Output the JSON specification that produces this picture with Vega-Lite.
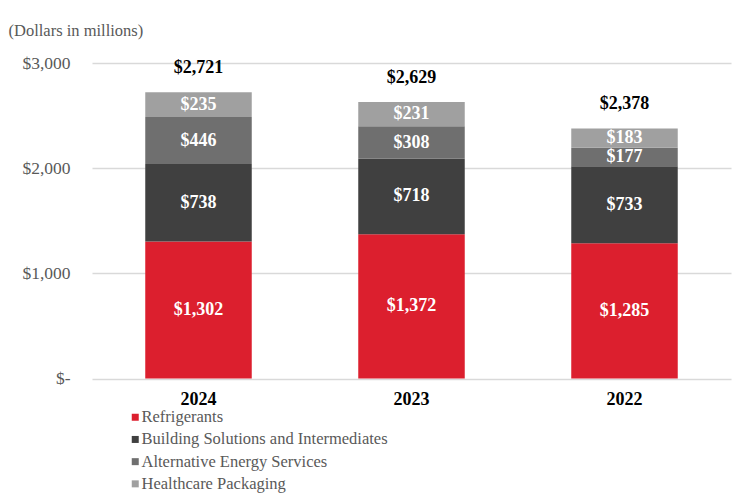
{
  "$schema": "https://vega.github.io/schema/vega-lite/v6.json",
  "autosize": {"type": "none"},
  "width": 639,
  "height": 315.5,
  "padding": {"left": 92, "top": 63, "right": 23, "bottom": 117},
  "background": "white",
  "config": {
    "view": {"stroke": null},
    "font": "Liberation Serif",
    "axis": {"labelFont": "Liberation Serif", "titleFont": "Liberation Serif"},
    "legend": {"labelFont": "Liberation Serif", "titleFont": "Liberation Serif"},
    "text": {"font": "Liberation Serif"}
  },
  "datasets": {
    "segments": [
      {"year": "2024", "segment": "Refrigerants", "rank": 1, "value": 1302},
      {"year": "2024", "segment": "Building Solutions and Intermediates", "rank": 2, "value": 738},
      {"year": "2024", "segment": "Alternative Energy Services", "rank": 3, "value": 446},
      {"year": "2024", "segment": "Healthcare Packaging", "rank": 4, "value": 235},
      {"year": "2023", "segment": "Refrigerants", "rank": 1, "value": 1372},
      {"year": "2023", "segment": "Building Solutions and Intermediates", "rank": 2, "value": 718},
      {"year": "2023", "segment": "Alternative Energy Services", "rank": 3, "value": 308},
      {"year": "2023", "segment": "Healthcare Packaging", "rank": 4, "value": 231},
      {"year": "2022", "segment": "Refrigerants", "rank": 1, "value": 1285},
      {"year": "2022", "segment": "Building Solutions and Intermediates", "rank": 2, "value": 733},
      {"year": "2022", "segment": "Alternative Energy Services", "rank": 3, "value": 177},
      {"year": "2022", "segment": "Healthcare Packaging", "rank": 4, "value": 183}
    ],
    "totals": [
      {"year": "2024", "total": 2721},
      {"year": "2023", "total": 2629},
      {"year": "2022", "total": 2378}
    ]
  },
  "encoding": {
    "x": {
      "field": "year",
      "type": "nominal",
      "sort": ["2024", "2023", "2022"],
      "scale": {"paddingInner": 0.5, "paddingOuter": 0.25},
      "axis": {
        "title": null,
        "labelAngle": 0,
        "domain": false,
        "ticks": false,
        "labelFont": "Liberation Serif",
        "labelFontSize": 18,
        "labelFontWeight": "bold",
        "labelColor": "#000000",
        "labelBaseline": "middle",
        "labelPadding": 21
      }
    }
  },
  "layer": [
    {
      "data": {"name": "segments"},
      "transform": [
        {"stack": "value", "groupby": ["year"], "sort": [{"field": "rank", "order": "ascending"}], "as": ["v0", "v1"]},
        {"calculate": "(datum.v0 + datum.v1) / 2", "as": "mid"}
      ],
      "layer": [
        {
          "mark": {"type": "bar"},
          "encoding": {
            "y": {
              "field": "v0",
              "type": "quantitative",
              "scale": {"domain": [0, 3000], "nice": false},
              "axis": {
                "values": [0, 1000, 2000, 3000],
                "labelExpr": "datum.value == 0 ? '$-\u00a0\u00a0' : '$' + format(datum.value, ',')",
                "domain": false,
                "ticks": false,
                "grid": true,
                "gridColor": "#D9D9D9",
                "gridWidth": 1.5,
                "labelFont": "Liberation Serif",
                "labelFontSize": 17.5,
                "labelColor": "#595959",
                "labelPadding": 22,
                "title": "(Dollars in millions)",
                "titleFont": "Liberation Serif",
                "titleAngle": 0,
                "titleAlign": "left",
                "titleBaseline": "middle",
                "titleX": -84,
                "titleY": -33,
                "titleFontSize": 16.5,
                "titleFontWeight": "normal",
                "titleColor": "#595959"
              }
            },
            "y2": {"field": "v1"},
            "color": {
              "field": "segment",
              "type": "nominal",
              "sort": ["Refrigerants", "Building Solutions and Intermediates", "Alternative Energy Services", "Healthcare Packaging"],
              "scale": {
                "domain": ["Refrigerants", "Building Solutions and Intermediates", "Alternative Energy Services", "Healthcare Packaging"],
                "range": ["#DC1F2E", "#404040", "#6F6F6F", "#A0A0A0"]
              },
              "legend": {
                "orient": "none",
                "legendX": 35,
                "legendY": 346,
                "title": null,
                "direction": "vertical",
                "symbolType": "square",
                "symbolSize": 49,
                "symbolStrokeWidth": 0,
                "labelFont": "Liberation Serif",
                "labelFontSize": 16.5,
                "labelColor": "#595959",
                "labelLimit": 0,
                "labelOffset": -2,
                "rowPadding": 5.2,
                "padding": 0
              }
            }
          }
        },
        {
          "mark": {"type": "text", "color": "white", "fontWeight": "bold", "fontSize": 18, "baseline": "middle", "font": "Liberation Serif"},
          "encoding": {
            "y": {"field": "mid", "type": "quantitative"},
            "text": {"field": "value", "type": "quantitative", "format": "$,.0f"}
          }
        }
      ]
    },
    {
      "data": {"name": "totals"},
      "mark": {"type": "text", "color": "black", "fontWeight": "bold", "fontSize": 18, "baseline": "middle", "dy": -24, "font": "Liberation Serif"},
      "encoding": {
        "y": {"field": "total", "type": "quantitative"},
        "text": {"field": "total", "type": "quantitative", "format": "$,.0f"}
      }
    }
  ]
}
